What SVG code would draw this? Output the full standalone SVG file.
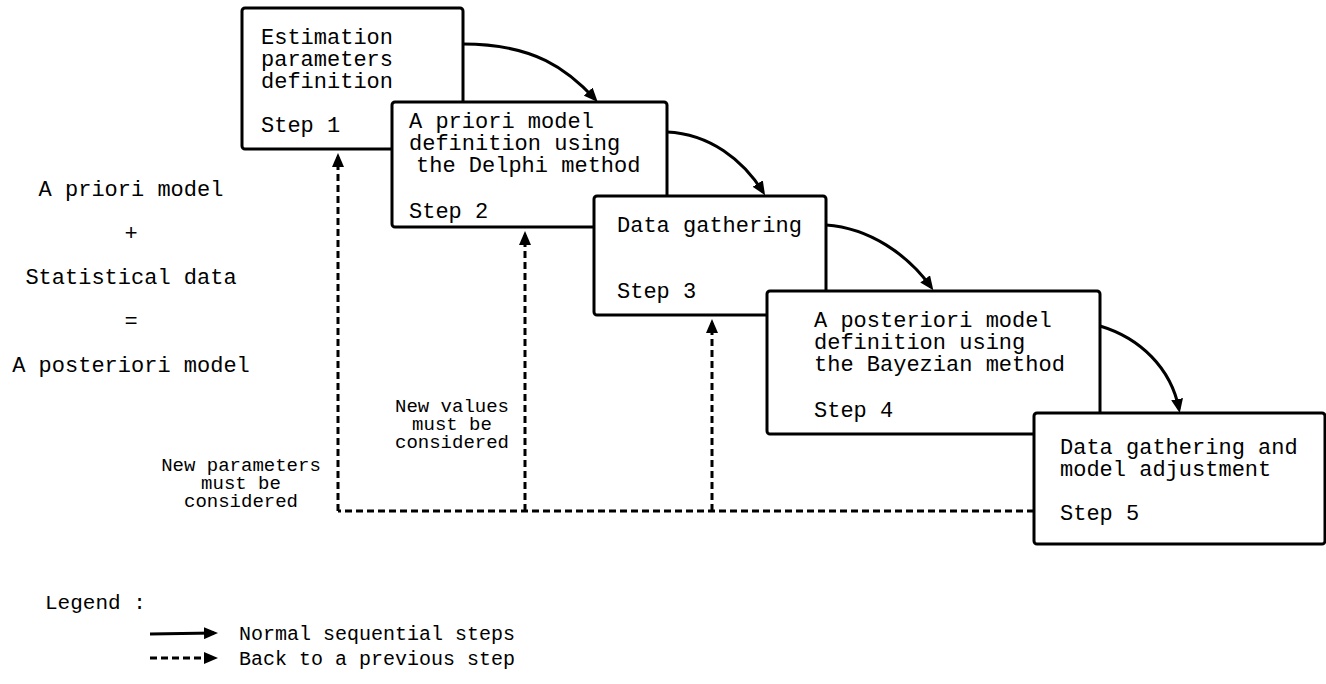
<svg xmlns="http://www.w3.org/2000/svg" width="1326" height="684" viewBox="0 0 1326 684">
  <defs>
    <marker id="head" markerUnits="userSpaceOnUse" markerWidth="14" markerHeight="12" refX="10" refY="6" orient="auto">
      <path d="M0,0 L14,6 L0,12 z" fill="#000"/>
    </marker>
    <style>
      .box { fill: #fff; stroke: #000; stroke-width: 3; }
      .t { font-family: "Liberation Mono", "Courier New", monospace; font-size: 22px; fill: #000; }
      .lbl { font-family: "Liberation Mono", "Courier New", monospace; font-size: 19px; fill: #000; text-anchor: middle; }
      .side { text-anchor: middle; }
      .seq { fill: none; stroke: #000; stroke-width: 3; marker-end: url(#head); }
      .back { fill: none; stroke: #000; stroke-width: 3; stroke-dasharray: 7 4; }
      .backarrow { fill: none; stroke: #000; stroke-width: 3; stroke-dasharray: 7 4; marker-end: url(#head); }
    </style>
  </defs>

  <rect width="1326" height="684" fill="#fff"/>

  <!-- model equation -->
  <g id="equation">
    <text class="t side" x="131" y="196">A priori model</text>
    <text class="t side" x="131" y="240">+</text>
    <text class="t side" x="131" y="284">Statistical data</text>
    <text class="t side" x="131" y="328">=</text>
    <text class="t side" x="131" y="372">A posteriori model</text>
  </g>

  <!-- feedback (dashed) connectors drawn beneath the boxes -->
  <g id="connectors-back">
    <path class="back" d="M1034,511 H338"/>
    <path class="backarrow" d="M338,511 V157"/>
    <path class="backarrow" d="M525,511 V235"/>
    <path class="backarrow" d="M712,511 V323"/>
  </g>

  <g id="step1">
    <rect class="box" x="242" y="8" width="221" height="141" rx="3"/>
    <text class="t" x="261" y="44">Estimation</text>
    <text class="t" x="261" y="66">parameters</text>
    <text class="t" x="261" y="88">definition</text>
    <text class="t" x="261" y="132">Step 1</text>
  </g>

  <g id="step2">
    <rect class="box" x="392" y="102" width="275" height="125" rx="3"/>
    <text class="t" x="409" y="128">A priori model</text>
    <text class="t" x="409" y="150">definition using</text>
    <text class="t" x="416" y="172">the Delphi method</text>
    <text class="t" x="409" y="218">Step 2</text>
  </g>

  <g id="step3">
    <rect class="box" x="594" y="196" width="232" height="119" rx="3"/>
    <text class="t" x="617" y="232">Data gathering</text>
    <text class="t" x="617" y="298">Step 3</text>
  </g>

  <g id="step4">
    <rect class="box" x="767" y="291" width="333" height="143" rx="3"/>
    <text class="t" x="814" y="327">A posteriori model</text>
    <text class="t" x="814" y="349">definition using</text>
    <text class="t" x="814" y="371">the Bayezian method</text>
    <text class="t" x="814" y="417">Step 4</text>
  </g>

  <g id="step5">
    <rect class="box" x="1034" y="413" width="291" height="131" rx="3"/>
    <text class="t" x="1060" y="454">Data gathering and</text>
    <text class="t" x="1060" y="476">model adjustment</text>
    <text class="t" x="1060" y="520">Step 5</text>
  </g>

  <!-- sequential (solid) connectors -->
  <g id="connectors-seq">
    <path class="seq" d="M463,44 C535,44 568,70 595,99"/>
    <path class="seq" d="M667,132 C710,134 743,160 763,192"/>
    <path class="seq" d="M826,225 C870,228 908,255 931,287"/>
    <path class="seq" d="M1100,326 C1140,338 1171,368 1179,409"/>
  </g>

  <!-- dashed connector labels -->
  <g id="label-values">
    <text class="lbl" x="452" y="412">New values<tspan x="452" dy="18">must be</tspan><tspan x="452" dy="18">considered</tspan></text>
  </g>
  <g id="label-parameters">
    <text class="lbl" x="241" y="471">New parameters<tspan x="241" dy="18">must be</tspan><tspan x="241" dy="18">considered</tspan></text>
  </g>

  <!-- legend -->
  <g id="legend">
    <text class="t" x="45" y="609" style="font-size:21px">Legend :</text>
    <path class="seq" d="M150,634 L214,633"/>
    <text class="t" x="239" y="640" style="font-size:20px">Normal sequential steps</text>
    <path class="backarrow" d="M150,658 H214"/>
    <text class="t" x="239" y="665" style="font-size:20px">Back to a previous step</text>
  </g>
</svg>
